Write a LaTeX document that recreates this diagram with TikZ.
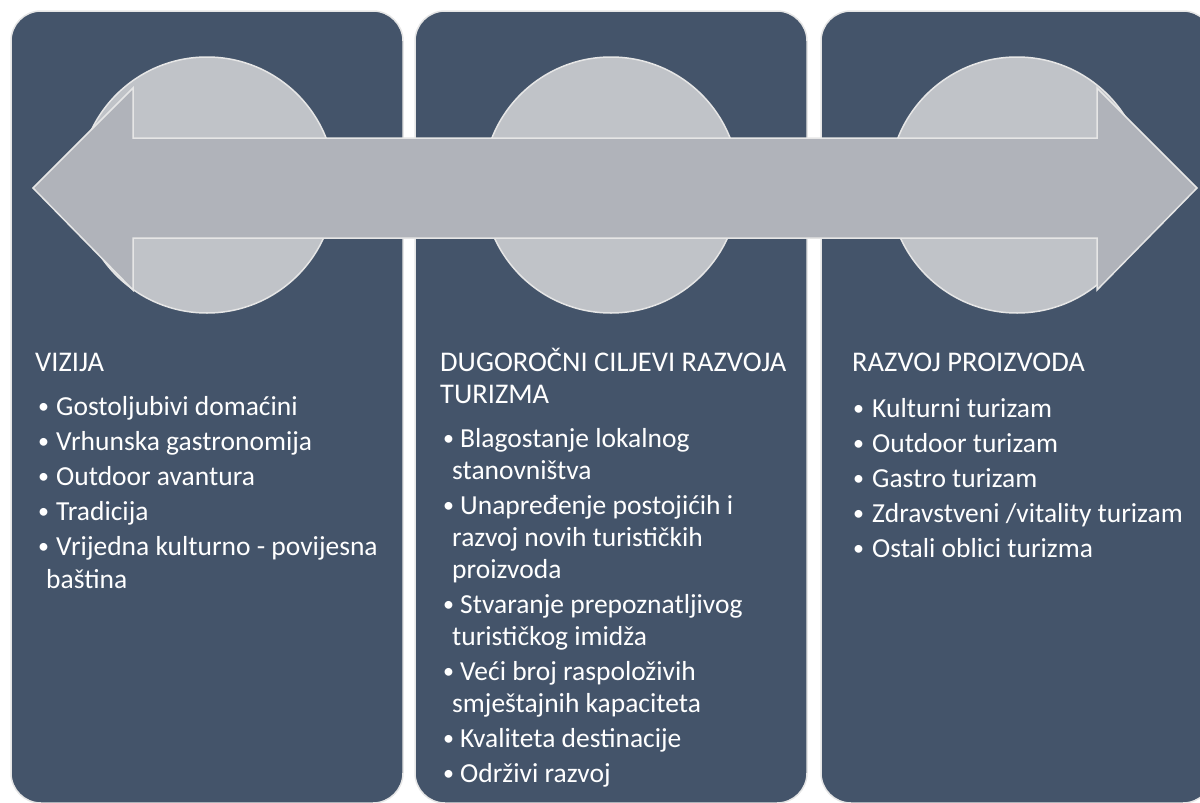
\documentclass[tikz,border=0pt]{standalone}
\usepackage{fontspec}
\setmainfont{Carlito}
\definecolor{plavosiva}{HTML}{44546A}
\definecolor{krugsiva}{HTML}{C0C3C8}
\definecolor{strelsiva}{HTML}{B0B3BA}
\definecolor{rub}{HTML}{E6E6E6}
% mala tocka ispred stavke, sirina kutije zadana
\newcommand{\tocka}[1]{\makebox[#1][l]{\raisebox{1.5pt}{\fontsize{22}{22}\selectfont\textbullet}}}
\begin{document}
\begin{tikzpicture}[x=1pt, y=-1pt,
  ploca/.style={draw=rub, line width=1.5pt, fill=plavosiva, rounded corners=30pt,
    minimum width=392pt, minimum height=792pt, inner sep=0pt},
  krug/.style={circle, draw=rub, line width=1.5pt, fill=krugsiva, minimum size=256pt, inner sep=0pt},
  tekst/.style={text=white, anchor=north west, inner sep=0pt, align=left,
    font=\fontsize{27.5}{33}\selectfont},
  naslov/.style={tekst, font=\fontsize{28.5}{32}\selectfont}]
\useasboundingbox (0,0) rectangle (1200,803);
% Ploce i krugovi
\foreach \x/\n in {207/a, 611/b, 1017/c} {
  \node[ploca] (ploca-\n) at (\x,407) {};
  \node[krug] (krug-\n) at (\x,185) {};
}
% Dvostruka strelica
\draw[draw=rub, line width=1.5pt, fill=strelsiva, line join=miter]
  (33,188) -- (133,88) -- (133,138) -- (1097,138) -- (1097,88) -- (1197,188)
  -- (1097,290) -- (1097,238) -- (133,238) -- (133,290) -- cycle;
% Naslovi
\node[naslov] (nasl-a) at (35,353) {VIZIJA};
\node[naslov] (nasl-b) at (440,348) {DUGOROČNI CILJEVI RAZVOJA\\TURIZMA};
\node[naslov] (nasl-c) at (852,353) {RAZVOJ PROIZVODA};
% Stavke
\node[tekst] (stavke-a) at (38,396) {%
  \tocka{18pt}Gostoljubivi domaćini\\[2pt]
  \tocka{18pt}Vrhunska gastronomija\\[2pt]
  \tocka{18pt}Outdoor avantura\\[2pt]
  \tocka{18pt}Tradicija\\[2pt]
  \tocka{18pt}Vrijedna kulturno - povijesna\\
  \hspace*{8pt}baština};
\node[tekst, font=\fontsize{27.5}{32}\selectfont] (stavke-b) at (443,428) {%
  \tocka{17pt}Blagostanje lokalnog\\
  \hspace*{9pt}stanovništva\\[3pt]
  \tocka{17pt}Unapređenje postojićih i\\
  \hspace*{9pt}razvoj novih turističkih\\
  \hspace*{9pt}proizvoda\\[3pt]
  \tocka{17pt}Stvaranje prepoznatljivog\\
  \hspace*{9pt}turističkog imidža\\[3pt]
  \tocka{17pt}Veći broj raspoloživih\\
  \hspace*{9pt}smještajnih kapaciteta\\[3pt]
  \tocka{17pt}Kvaliteta destinacije\\[3pt]
  \tocka{17pt}Održivi razvoj};
\node[tekst] (stavke-c) at (853,398) {%
  \tocka{19pt}Kulturni turizam\\[2pt]
  \tocka{19pt}Outdoor turizam\\[2pt]
  \tocka{19pt}Gastro turizam\\[2pt]
  \tocka{19pt}Zdravstveni /vitality turizam\\[2pt]
  \tocka{19pt}Ostali oblici turizma};
\end{tikzpicture}
\end{document}
